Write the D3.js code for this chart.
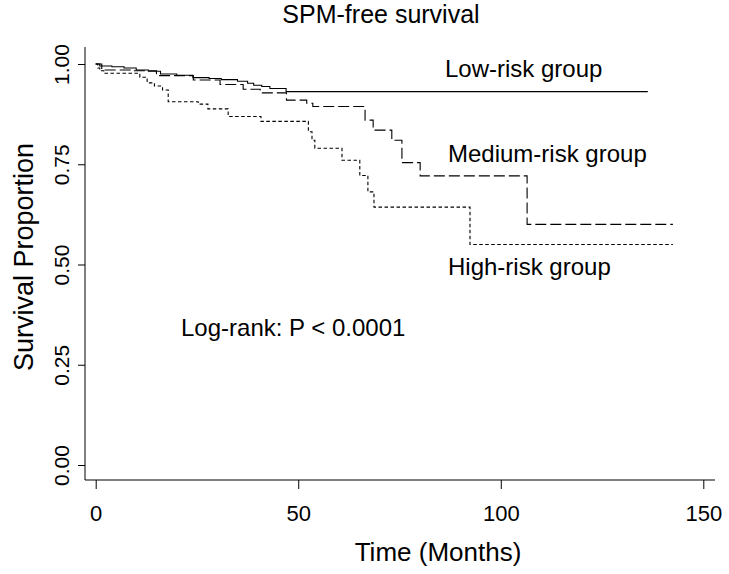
<!DOCTYPE html>
<html>
<head>
<meta charset="utf-8">
<script src="https://cdn.jsdelivr.net/npm/d3@7"></script>
<style>
  html, body { margin: 0; padding: 0; background: #fff; }
  svg text { font-family: "Liberation Sans", Arial, Helvetica, sans-serif; fill: #000; }
</style>
</head>
<body>
<svg id="chart" width="729" height="574"></svg>
<script>
// ---- Data ----
const lowTime    = [0, 1, 4, 7, 10, 13, 16, 20, 24, 28, 31, 35, 37.5, 39, 41, 43, 47, 136.3];
const lowSurv    = [1, 0.995, 0.993, 0.99, 0.985, 0.982, 0.975, 0.972, 0.966, 0.964, 0.961, 0.957, 0.952, 0.947, 0.944, 0.939, 0.931, 0.931];

const medTime    = [0, 1.5, 9.3, 15, 24.1, 30.7, 36.4, 40.6, 47.1, 52.1, 53.6, 66.5, 68.5, 73.1, 75.6, 80.1, 106.5, 142.5];
const medSurv    = [1, 0.985, 0.983, 0.971, 0.96, 0.949, 0.937, 0.928, 0.91, 0.902, 0.894, 0.86, 0.835, 0.81, 0.754, 0.721, 0.6, 0.6];

const highTime   = [0, 0.5, 1, 2, 10.9, 12.7, 14.5, 16.5, 17.9, 25.3, 27.7, 32.7, 40.8, 52.5, 53.4, 54.1, 60.8, 65.2, 67.2, 68.7, 92.4, 142.5];
const highSurv   = [1, 0.99, 0.983, 0.977, 0.967, 0.953, 0.945, 0.935, 0.906, 0.9, 0.888, 0.869, 0.857, 0.831, 0.81, 0.79, 0.76, 0.722, 0.681, 0.643, 0.55, 0.55];

const xTicks = [0, 50, 100, 150];
const yTicks = [0, 0.25, 0.5, 0.75, 1];

const titleText = "SPM-free survival";
const xTitle = "Time (Months)";
const yTitle = "Survival Proportion";
const groupLabels = ["Low-risk group", "Medium-risk group", "High-risk group"];
const pText = "Log-rank: P < 0.0001";

// ---- Layout ----
const svg = d3.select("#chart");
const x = d3.scaleLinear().domain([0, 150]).range([95.7, 703.3]);
const y = d3.scaleLinear().domain([0, 1]).range([465, 64]);
const frameLeft = 85, frameRight = 715, frameTop = 47, frameBottom = 480;

// L-shaped frame
svg.append("path")
  .attr("d", `M${frameLeft},${frameTop}V${frameBottom}H${frameRight}`)
  .attr("fill", "none").attr("stroke", "#000").attr("stroke-width", 1);

// X axis
const xAxis = svg.append("g").attr("transform", `translate(0,${frameBottom})`)
  .call(d3.axisBottom(x).tickValues(xTicks).tickSize(9).tickPadding(16));
xAxis.select(".domain").remove();
xAxis.selectAll("line").attr("stroke", "#000");
xAxis.selectAll("text").style("font-size", "22px")
  .style("font-family", "Liberation Sans, Arial, sans-serif");

// Y axis
const yAxis = svg.append("g").attr("transform", `translate(${frameLeft},0)`)
  .call(d3.axisLeft(y).tickValues(yTicks).tickFormat(d3.format(".2f")).tickSize(7));
yAxis.select(".domain").remove();
yAxis.selectAll("line").attr("stroke", "#000");
yAxis.selectAll("text")
  .attr("x", null).attr("dy", null)
  .attr("transform", "translate(-16,0) rotate(-90)")
  .attr("text-anchor", "middle")
  .style("font-size", "21px")
  .style("font-family", "Liberation Sans, Arial, sans-serif");

// Curves
const line = d3.line().x(d => x(d[0])).y(d => y(d[1])).curve(d3.curveStepAfter);
const series = [
  { t: lowTime, s: lowSurv, dash: null },
  { t: medTime, s: medSurv, dash: "11,4" },
  { t: highTime, s: highSurv, dash: "3.5,2.5" }
];
series.forEach(sr => {
  const pts = sr.t.map((t, i) => [t, sr.s[i]]);
  svg.append("path").datum(pts)
    .attr("d", line)
    .attr("fill", "none")
    .attr("stroke", "#000")
    .attr("stroke-width", 1.1)
    .attr("stroke-dasharray", sr.dash);
});

// Texts
svg.append("text").attr("x", 381).attr("y", 23).attr("text-anchor", "middle")
  .style("font-size", "25px").text(titleText);
svg.append("text").attr("x", 438).attr("y", 561).attr("text-anchor", "middle")
  .style("font-size", "26px").text(xTitle);
svg.append("text").attr("transform", "translate(33,257) rotate(-90)").attr("text-anchor", "middle")
  .style("font-size", "27px").text(yTitle);

svg.append("text").attr("x", 445).attr("y", 77).style("font-size", "24px").text(groupLabels[0]);
svg.append("text").attr("x", 448).attr("y", 162).style("font-size", "24px").text(groupLabels[1]);
svg.append("text").attr("x", 448).attr("y", 275).style("font-size", "24px").text(groupLabels[2]);
svg.append("text").attr("x", 181).attr("y", 336).style("font-size", "24px").text(pText);
</script>
</body>
</html>
